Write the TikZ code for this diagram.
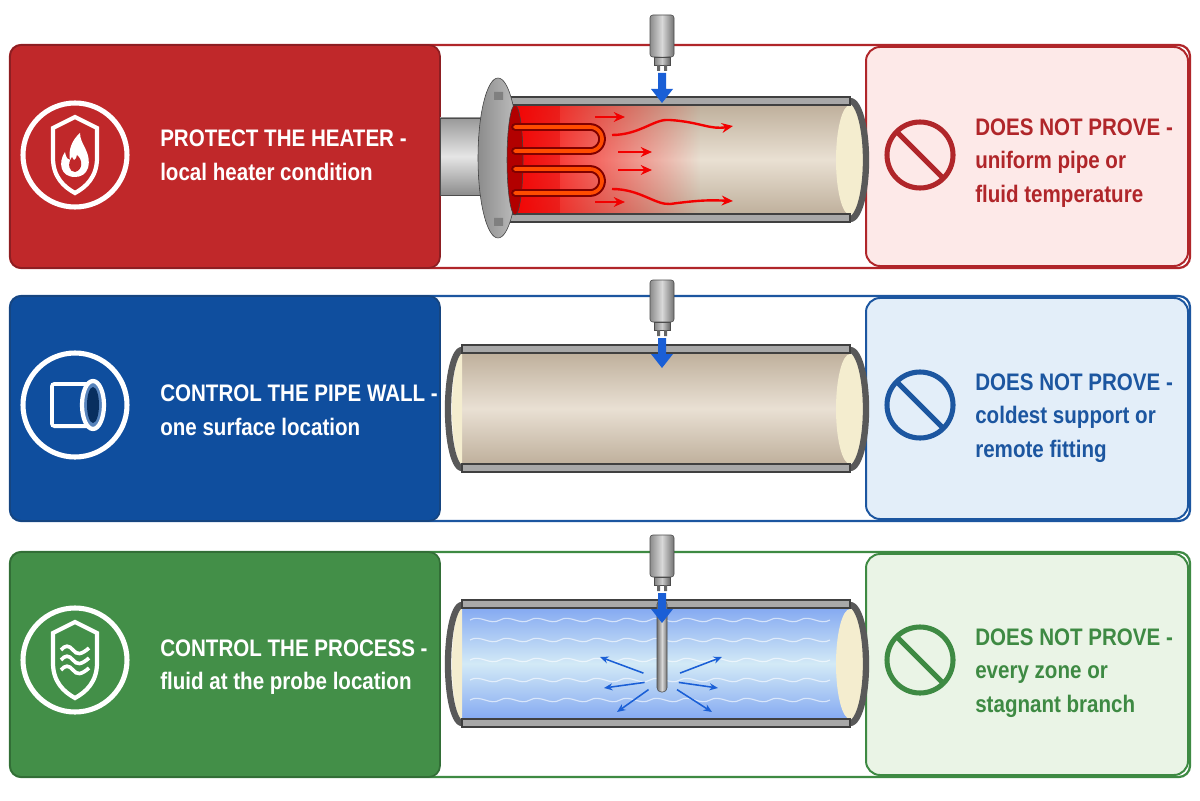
\documentclass[tikz,border=0pt]{standalone}
\usepackage{fontspec}
\setmainfont{Liberation Sans}[FakeStretch=0.86]
\usetikzlibrary{fadings,arrows.meta}
\definecolor{rA}{HTML}{C0282A}\definecolor{rL}{HTML}{FDE9E8}\definecolor{rT}{HTML}{B0262A}
\definecolor{bA}{HTML}{0F4E9E}\definecolor{bL}{HTML}{E3EEF9}\definecolor{bT}{HTML}{1C56A0}
\definecolor{gA}{HTML}{438F48}\definecolor{gL}{HTML}{EAF4E6}\definecolor{gT}{HTML}{3E8A43}
\definecolor{cream}{HTML}{F4EDCF}\definecolor{wallg}{HTML}{A8A8A8}\definecolor{arrB}{HTML}{1A5FD6}
\definecolor{beige}{HTML}{E9E0D3}\definecolor{beigeD}{HTML}{BFB09C}\definecolor{water}{HTML}{A6D4EE}
\begin{document}
\begin{tikzpicture}[x=0.025cm,y=-0.025cm,
  lab/.style={anchor=west,align=left,font=\fontsize{17}{24}\selectfont\bfseries,inner sep=0},
  wall/.style={fill=wallg,draw=black!75,line width=0.8pt},
  ringst/.style={draw=black!65,line width=4.5pt},
  probeIcon/.style={line width=3.6pt,draw=#1},
  redarr/.style={red!95!black,line width=1.7pt,-{Stealth[length=8pt,width=7pt]}},
  bluarr/.style={arrB,line width=1.1pt,-{Stealth[length=6pt,width=5pt]}}]
\useasboundingbox (0,0) rectangle (1200,800);
\fill[white] (0,0) rectangle (1200,800);
% ---------- sensor macro
\newcommand\mysensor[2]{% x, ytop
  \shade[left color=black!45,right color=black!55,middle color=black!15,draw=black!70,rounded corners=2pt] (#1-12,#2) rectangle (#1+12,#2+42);
  \shade[left color=black!50,right color=black!60,middle color=black!20,draw=black!70] (#1-8,#2+42) rectangle (#1+8,#2+50);
  \fill[black!60] (#1-5,#2+50) rectangle (#1-2,#2+56) (#1+2,#2+50) rectangle (#1+5,#2+56);
  \fill[arrB] (#1-4,#2+58) rectangle (#1+4,#2+74) (#1-11,#2+74) -- (#1+11,#2+74) -- (#1,#2+88) -- cycle;}
% pipe ends: x, ymid
\newcommand\rightend[2]{%
  \fill[cream] (#1,#2) ellipse[x radius=14,y radius=55];
  \draw[ringst] plot[domain=-90:90,smooth,samples=30] ({#1+16*cos(\x)},{#2+59*sin(\x)});}
\newcommand\leftend[2]{%
  \fill[cream] plot[domain=90:270,smooth,samples=30] ({#1+10*cos(\x)},{#2+55*sin(\x)}) -- cycle;
  \draw[ringst] plot[domain=90:270,smooth,samples=30] ({#1+14*cos(\x)},{#2+59*sin(\x)});}
% ---------- row frames
\newcommand\myrow[6]{%
  \draw[#4,line width=1.6pt,rounded corners=8pt,fill=white] (10,#1) rectangle (1190,#2);
  \draw[#4!80!black,line width=1.2pt,rounded corners=8pt,fill=#3] (10,#1) rectangle (440,#2);
  \draw[#5,line width=1.4pt,rounded corners=10pt,fill=#6] (866,#1+2) rectangle (1188,#2-2);}
\myrow{45}{268}{rA}{rT}{rT}{rL}
\myrow{296}{521}{bA}{bT}{bT}{bL}
\myrow{552}{777}{gA}{gT}{gT}{gL}
% ---------- left icons
\foreach \yc in {155,405,660} \draw[white,line width=3.6pt] (75,\yc) circle[radius=52];
\newcommand\myshield[2]{\draw[white,line width=3pt,#2] (53,#1-27) -- (75,#1-38) -- (97,#1-27) -- (97,#1+3) .. controls (97,#1+22) and (86,#1+32) .. (75,#1+38) .. controls (64,#1+32) and (53,#1+22) .. (53,#1+3) -- cycle;}
\myshield{155}{fill=rA}
\fill[white] (75,177) .. controls (60,177) and (58,162) .. (65,152) .. controls (66,158) and (68,160) .. (70,160) .. controls (68,150) and (72,140) .. (80,133) .. controls (80,145) and (92,152) .. (88,168) .. controls (86,174) and (81,177) .. (75,177) -- cycle;
\fill[rA] (75,172) .. controls (69,172) and (67,164) .. (72,157) .. controls (74,162) and (76,160) .. (77,155) .. controls (83,160) and (83,170) .. (75,172) -- cycle;
\myshield{660}{}
\foreach \dy in {-10,0,10}
  \draw[white,line width=2.6pt] (61,660+\dy) .. controls (65,655+\dy) and (69,655+\dy) .. (73,660+\dy) .. controls (77,665+\dy) and (81,665+\dy) .. (89,658+\dy);
% pipe icon
\fill[white,rounded corners=3pt] (50,382) rectangle (93,428);
\fill[bA] (54,386) rectangle (91,424);
\draw[white,line width=3pt,fill=bA!70!white] (93,405) ellipse[x radius=11,y radius=24];
\fill[bA!60!black] (93,405) ellipse[x radius=6,y radius=18];
% ---------- left texts
\node[lab,white] (t1) at (160,155) {PROTECT THE HEATER -\\local heater condition};
\node[lab,white] (t2) at (160,410) {CONTROL THE PIPE WALL -\\one surface location};
\node[lab,white] (t3) at (160,667) {CONTROL THE PROCESS -\\fluid at the probe location};
% ---------- right icons/texts
\draw[probeIcon=rT] (920,155) circle[radius=33] (897,132) -- (943,178);
\draw[probeIcon=bT] (920,405) circle[radius=33] (897,382) -- (943,428);
\draw[probeIcon=gT] (920,660) circle[radius=33] (897,637) -- (943,683);
\node[lab,rT] (r1) at (975,163) {DOES NOT PROVE -\\uniform pipe or\\fluid temperature};
\node[lab,bT] (r2) at (975,418) {DOES NOT PROVE -\\coldest support or\\remote fitting};
\node[lab,gT] (r3) at (975,673) {DOES NOT PROVE -\\every zone or\\stagnant branch};
% ---------- row1 pipe with heater
\shade[top color=black!40,bottom color=black!45,middle color=black!10,draw=black!70] (440,118) rectangle (485,195);
\shade[top color=beigeD,bottom color=beigeD,middle color=beige] (508,105) rectangle (850,214);
\fill[red,path fading=east] (505,105) rectangle (700,214);
\fill[red!90!black,opacity=.4] (505,105) rectangle (560,214);
\rightend{850}{160}
\fill[wall] (508,97) rectangle (850,105) (508,214) rectangle (850,222);
% flange
\shade[left color=black!45,right color=black!25,draw=black!75] (498,158) ellipse[x radius=20,y radius=80];
\fill[black!50] (494,92) rectangle (503,100) (494,218) rectangle (503,226);
\draw[black!75,fill=red!70!black] (515,160) ellipse[x radius=8,y radius=55];
% heating elements
\foreach \ya/\yb in {127/151,169/193} {
  \draw[red!50!black,line width=5.5pt,line cap=round] (515,\ya) -- (590,\ya) -- plot[domain=-90:90,smooth,samples=20] ({590+12*cos(\x)},{(\ya+\yb)/2+12*sin(\x)}) -- (515,\yb);
  \draw[orange!60!red,line width=2.6pt,line cap=round] (515,\ya) -- (590,\ya) -- plot[domain=-90:90,smooth,samples=20] ({590+12*cos(\x)},{(\ya+\yb)/2+12*sin(\x)}) -- (515,\yb);}
% flow arrows
\draw[redarr] (595,117) -- (625,117);
\draw[redarr] (618,152) -- (652,152);
\draw[redarr] (618,170) -- (652,170);
\draw[redarr] (595,202) -- (625,202);
\draw[redarr] (612,135) .. controls (640,135) and (655,118) .. (670,120) .. controls (700,122) and (710,130) .. (733,126);
\draw[redarr] (612,189) .. controls (640,189) and (655,205) .. (670,204) .. controls (700,200) and (710,200) .. (733,201);
\mysensor{662}{15}
% ---------- row2 pipe
\shade[top color=beigeD,bottom color=beigeD,middle color=beige] (462,353) rectangle (850,464);
\rightend{850}{409}
\leftend{462}{409}
\fill[wall] (462,345) rectangle (850,353) (462,464) rectangle (850,472);
\mysensor{662}{280}
% ---------- row3 pipe
\shade[top color=water!80!blue,bottom color=water!80!blue,middle color=water!50!white] (462,608) rectangle (850,719);
\foreach \yy in {620,640,660,680,700}
  \draw[white,opacity=.6,line width=0.8pt] (470,\yy) \foreach \k in {0,...,11} { .. controls (480+\k*30,\yy-6) and (490+\k*30,\yy+6) .. (500+\k*30,\yy) };
\rightend{850}{664}
\leftend{462}{664}
\fill[wall] (462,600) rectangle (850,608) (462,719) rectangle (850,727);
\shade[left color=black!55,right color=black!55,middle color=black!15,draw=black!70,rounded corners=3pt] (657,600) rectangle (667,692);
\mysensor{662}{535}
\foreach \ex/\ey in {600/657,604/688,617/712,722/657,718/688,712/712}
  \draw[bluarr] ({662+0.3*(\ex-662)},{680+0.3*(\ey-680)}) -- (\ex,\ey);
\end{tikzpicture}
\end{document}
